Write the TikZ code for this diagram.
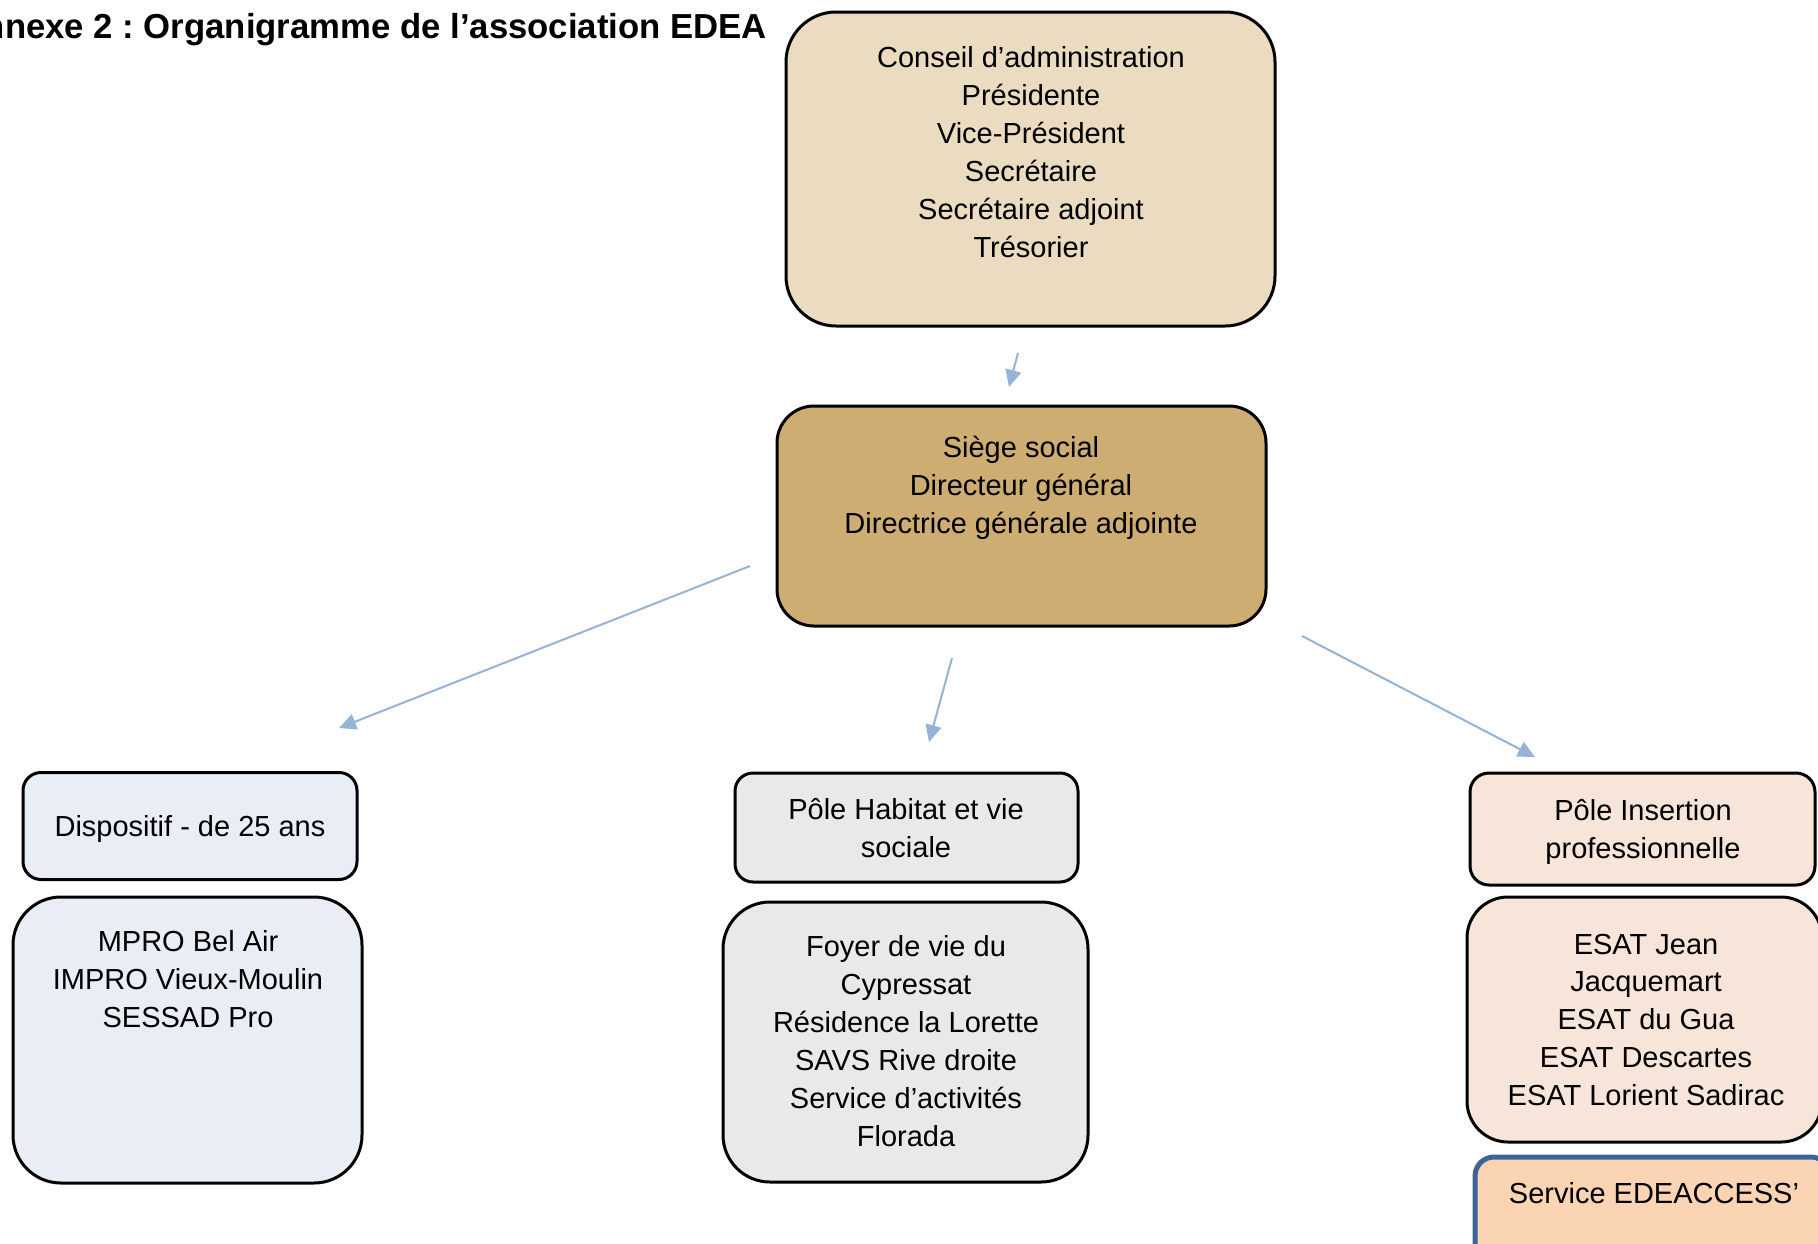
\documentclass[tikz,border=0pt]{standalone}
\usepackage{fontspec}
\setmainfont{Liberation Sans}
\usetikzlibrary{arrows.meta}
\frenchspacing

\definecolor{conseilfill}{HTML}{EBDCC1}
\definecolor{siegefill}{HTML}{CDAD71}
\definecolor{jeunesfill}{HTML}{E9EEF6}
\definecolor{habitatfill}{HTML}{E9E8EA}
\definecolor{insertionfill}{HTML}{F6E5D8}
\definecolor{accessfill}{HTML}{FBD4B4}
\definecolor{accessline}{HTML}{3D6494}
\definecolor{linkblue}{HTML}{95B3D7}

\begin{document}
\begin{tikzpicture}[x=1pt, y=-1pt,
    box/.style={draw=black, line width=3pt, inner sep=0pt},
    txt/.style={align=center, inner sep=0pt, font=\fontsize{29}{38}\selectfont},
    link/.style={draw=linkblue, line width=2pt, -{Triangle[length=17pt, width=16pt]}}]
    \clip (0,0) rectangle (1818,1243);

    % Title
    \node[anchor=base east, inner sep=0pt, font=\bfseries\fontsize{34.7}{40}\selectfont] (title) at (767,38) {Annexe 2 : Organigramme de l’association EDEA};

    % Conseil d'administration
    \node[box, fill=conseilfill, rounded corners=50pt, minimum width=489pt, minimum height=314pt] (conseil) at (1030.5,169) {};
    \node[txt] (conseil-text) at (1031,152) {Conseil d’administration\\Présidente\\Vice-Président\\Secrétaire\\Secrétaire adjoint\\Trésorier};

    % Siege social
    \node[box, fill=siegefill, rounded corners=37pt, minimum width=489pt, minimum height=220pt] (siege) at (1021.5,516) {};
    \node[txt] (siege-text) at (1021,487.5) {Siège social\\Directeur général\\Directrice générale adjointe};

    % Dispositif - de 25 ans
    \node[box, fill=jeunesfill, rounded corners=18pt, minimum width=334pt, minimum height=107pt] (jeunes) at (190,826) {};
    \node[txt] (jeunes-text) at (190,828.5) {Dispositif - de 25 ans};
    \node[box, fill=jeunesfill, rounded corners=48pt, minimum width=349pt, minimum height=286pt] (mpro) at (187.5,1040) {};
    \node[txt] (mpro-text) at (188,979) {MPRO Bel Air\\IMPRO Vieux-Moulin\\SESSAD Pro};

    % Pole Habitat et vie sociale
    \node[box, fill=habitatfill, rounded corners=18pt, minimum width=343pt, minimum height=109pt] (habitat) at (906.5,827.5) {};
    \node[txt] (habitat-text) at (906,828) {Pôle Habitat et vie\\sociale};
    \node[box, fill=habitatfill, rounded corners=47pt, minimum width=365pt, minimum height=280pt] (foyer) at (905.5,1042) {};
    \node[txt] (foyer-text) at (906,1041) {Foyer de vie du\\Cypressat\\Résidence la Lorette\\SAVS Rive droite\\Service d’activités\\Florada};

    % Pole Insertion professionnelle
    \node[box, fill=insertionfill, rounded corners=19pt, minimum width=345pt, minimum height=112pt] (insertion) at (1642.5,829) {};
    \node[txt] (insertion-text) at (1643,831.5) {Pôle Insertion\\professionnelle};
    \node[box, fill=insertionfill, rounded corners=41pt, minimum width=355pt, minimum height=245pt] (esat) at (1644.5,1019.5) {};
    \node[txt] (esat-text) at (1646,1020) {ESAT Jean\\Jacquemart\\ESAT du Gua\\ESAT Descartes\\ESAT Lorient Sadirac};
    \node[draw=accessline, line width=5pt, fill=accessfill, rounded corners=19pt, inner sep=0pt, minimum width=355pt, minimum height=113pt] (access) at (1652.5,1213.5) {};
    \node[txt] (access-text) at (1654,1193) {Service EDEACCESS’};

    % Arrows
    \coordinate (conseil-out) at (1018,353);
    \coordinate (siege-in) at (1009,387);
    \coordinate (siege-left) at (750,566);
    \coordinate (jeunes-in) at (339,728);
    \coordinate (siege-mid) at (952,658);
    \coordinate (habitat-in) at (929,742);
    \coordinate (siege-right) at (1302,636);
    \coordinate (insertion-in) at (1535,757);
    \draw[link] (conseil-out) -- (siege-in);
    \draw[link] (siege-left) -- (jeunes-in);
    \draw[link] (siege-mid) -- (habitat-in);
    \draw[link] (siege-right) -- (insertion-in);
\end{tikzpicture}
\end{document}
